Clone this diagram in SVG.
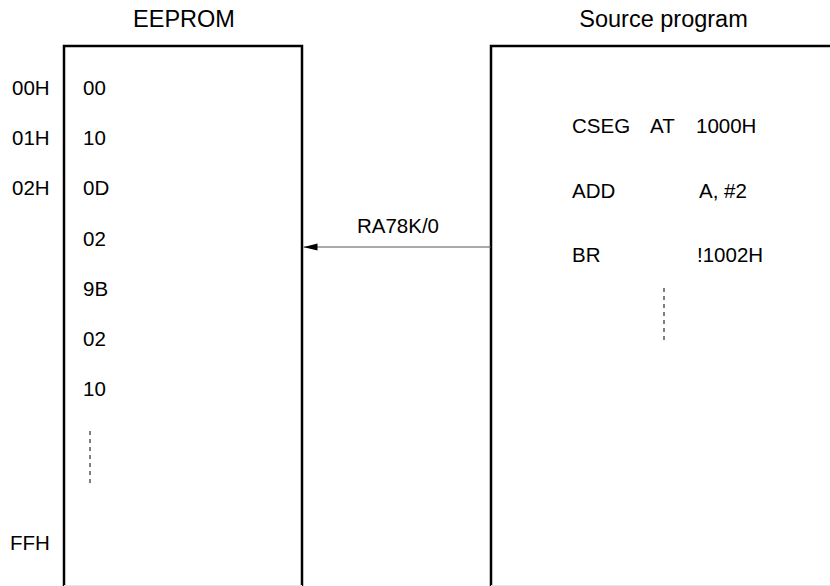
<svg xmlns="http://www.w3.org/2000/svg" width="830" height="586" viewBox="0 0 830 586">
<style>
text{font-family:"Liberation Sans",Arial,sans-serif;font-size:20.5px;fill:#000}
.title{font-size:23.5px}
.box{fill:none;stroke:#000;stroke-width:2.5}
.dash{stroke:#555;stroke-width:1.5;stroke-dasharray:4 4;fill:none}
</style>
<defs>
<marker id="ah" markerWidth="14" markerHeight="8" refX="14" refY="4" orient="auto" markerUnits="userSpaceOnUse">
<path d="M0,0.5 L14,4 L0,7.5 Z" fill="#000"/>
</marker>
</defs>
<rect width="830" height="586" fill="#fff"/>
<g id="eeprom">
<path class="box" d="M64,586 V46 H302 V586"/>
<line x1="64" y1="585.5" x2="302" y2="585.5" stroke="#e6e6e6" stroke-width="1"/>
<text class="title" x="184" y="27" text-anchor="middle">EEPROM</text>
<text x="12" y="95">00H</text>
<text x="12" y="145">01H</text>
<text x="12" y="195">02H</text>
<text x="10" y="550">FFH</text>
<text x="83" y="95">00</text>
<text x="83" y="145">10</text>
<text x="83" y="195">0D</text>
<text x="83" y="246">02</text>
<text x="83" y="296">9B</text>
<text x="83" y="346">02</text>
<text x="83" y="396">10</text>
<line class="dash" x1="90" y1="431" x2="90" y2="483"/>
</g>
<g id="source">
<path class="box" d="M491,586 V46 H832"/>
<line x1="491" y1="585.5" x2="830" y2="585.5" stroke="#e6e6e6" stroke-width="1"/>
<text class="title" x="663.5" y="27" text-anchor="middle">Source program</text>
<text x="572" y="133">CSEG</text>
<text x="650" y="133">AT</text>
<text x="696" y="133">1000H</text>
<text x="572" y="198">ADD</text>
<text x="699" y="198">A, #2</text>
<text x="572" y="262">BR</text>
<text x="697" y="262">!1002H</text>
<line class="dash" x1="664" y1="288" x2="664" y2="341"/>
</g>
<g id="connectors">
<line x1="491" y1="247" x2="303.5" y2="247" stroke="#555" stroke-width="1.2" marker-end="url(#ah)"/>
<text x="398" y="233" text-anchor="middle">RA78K/0</text>
</g>
</svg>
